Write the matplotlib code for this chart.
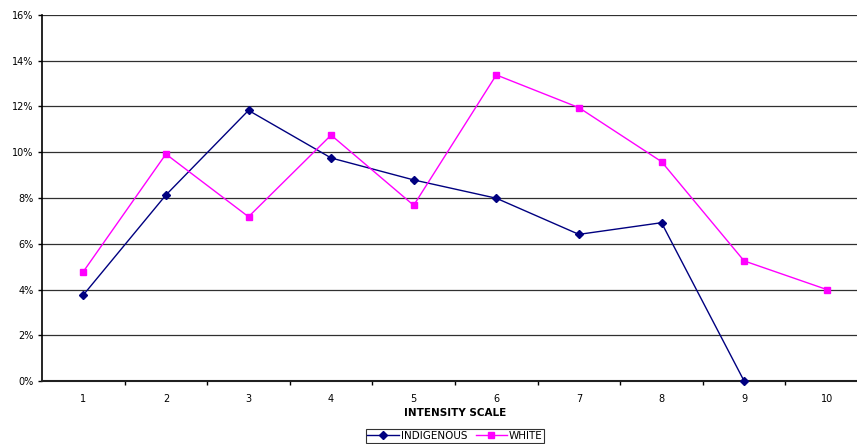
import matplotlib.pyplot as plt
import numpy as np

categories = [1, 2, 3, 4, 5, 6, 7, 8, 9, 10]
indigenous = [3.76, 8.13, 11.83, 9.75, 8.79, 7.99, 6.41, 6.92, 0.0]
white = [4.78, 9.92, 7.18, 10.75, 7.68, 13.38, 11.95, 9.59, 5.25, 4.0]
y_ticks = [0, 2, 4, 6, 8, 10, 12, 14, 16]

plt.rcParams["font.family"] = "DejaVu Sans"

fig = plt.figure(figsize=(8.57, 4.44), dpi=100)
ax = fig.add_axes([42 / 857, 63 / 444, 826 / 857, 366 / 444])

ax.plot(categories[:len(indigenous)], indigenous, color="#000080", marker="D",
        markersize=4, linewidth=1, label="INDIGENOUS", clip_on=False, zorder=3)
ax.plot(categories, white, color="#FF00FF", marker="s",
        markersize=5, linewidth=1, label="WHITE", clip_on=False, zorder=3)

ax.set_xlim(0.5, 10.5)
ax.set_ylim(0, 16)
ax.set_yticks(y_ticks)
ax.set_yticklabels([f"{t}%" for t in y_ticks], fontsize=7)
ax.set_xticks(categories)
ax.set_xticklabels([str(c) for c in categories], fontsize=7)
ax.set_xticks(np.arange(1.5, 10.5, 1), minor=True)
ax.tick_params(axis="x", which="major", length=0, pad=9)
ax.tick_params(axis="x", which="minor", length=3, direction="out", width=1)
ax.tick_params(axis="y", length=3, width=1, pad=3)

ax.grid(axis="y", color="#303030", linewidth=0.9)
ax.set_axisbelow(True)
for s in ["top", "right"]:
    ax.spines[s].set_visible(False)
ax.spines["left"].set_linewidth(1.2)
ax.spines["bottom"].set_linewidth(1.5)
ax.spines["bottom"].set_color("#202020")

ax.set_xlabel("INTENSITY SCALE", fontsize=7.5, fontweight="bold", labelpad=3)

leg = fig.legend(loc="center", bbox_to_anchor=(455 / 857, 8 / 444), ncol=2,
                 frameon=True, fancybox=False, edgecolor="black",
                 handlelength=3, columnspacing=0.8, handletextpad=0.2,
                 borderpad=0.15, borderaxespad=0, prop={"size": 7.5})
leg.get_frame().set_linewidth(0.8)

fig.savefig("out.png", dpi=100)
